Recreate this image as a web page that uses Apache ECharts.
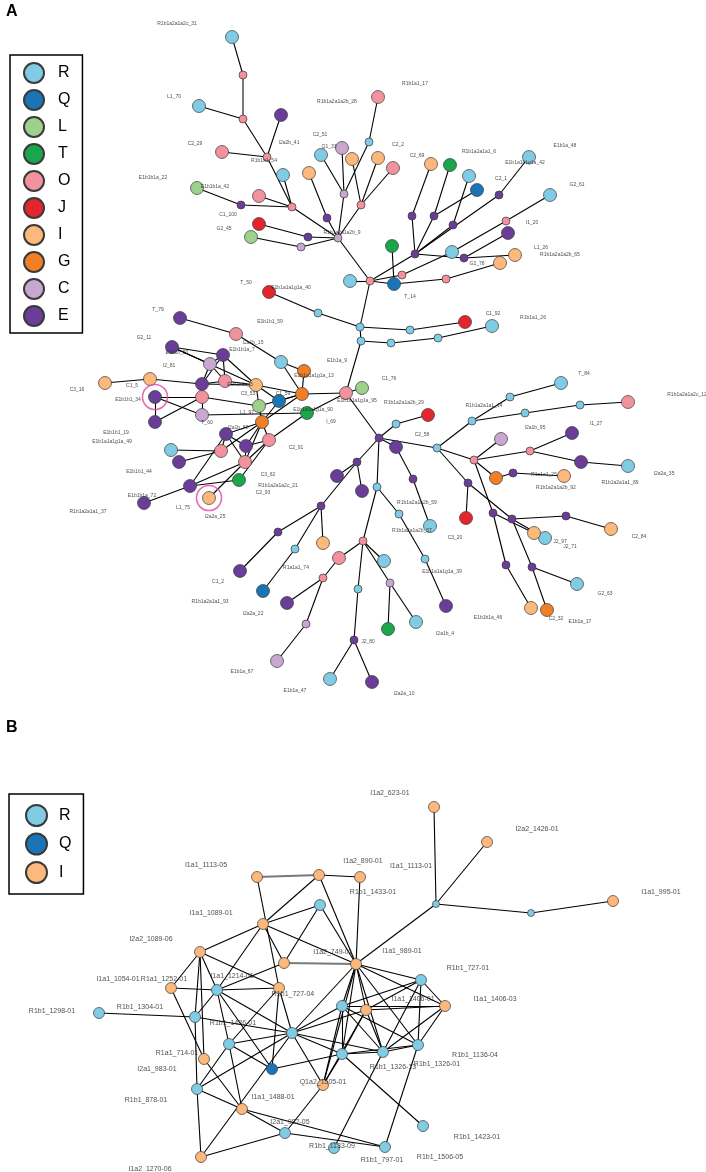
<!DOCTYPE html>
<html><head><meta charset="utf-8">
<script src="https://cdn.jsdelivr.net/npm/echarts@6/dist/echarts.min.js"></script>
<style>html,body{margin:0;padding:0;background:#fff}#c{width:706px;height:1172px}</style>
</head><body><div id="c"></div>
<script>
// ---------- DATA ----------
const groupsA = ['R','Q','L','T','O','J','I','G','C','E'];
const groupsB = ['R','Q','I'];

// [id, haplogroup, kind (s = sampled, m = median vector), layout x, layout y]
const nodesA = [
['n1','R','s',232,37],['n2','O','m',243,75],['n3','R','s',199,106],['n4','O','m',243,119],
['n5','E','s',281,115],['n6','O','s',222,152],['n7','O','m',267,157],['n8','R','s',283,175],
['n9','L','s',197,188],['n10','O','s',259,196],['n11','E','m',241,205],['n12','O','m',292,207],
['n13','J','s',259,224],['n14','L','s',251,237],['n15','E','m',308,237],['n16','C','m',301,247],
['n17','I','s',309,173],['n18','E','m',327,218],['n19','R','s',321,155],['n20','C','s',342,148],
['n21','C','m',344,194],['n22','R','m',369,142],['n23','O','s',378,97],['n24','I','s',352,159],
['n25','I','s',378,158],['n26','O','s',393,168],['n27','O','m',361,205],['n28','C','m',338,238],
['n29','O','m',370,281],['n30','R','s',350,281],['n31','T','s',392,246],['n32','Q','s',394,284],
['n33','O','m',402,275],['n34','E','m',415,254],['n35','E','m',412,216],['n36','I','s',431,164],
['n37','E','m',434,216],['n38','T','s',450,165],['n39','Q','s',477,190],['n40','E','m',453,225],
['n41','R','s',469,176],['n42','E','m',499,195],['n43','R','s',529,157],['n44','R','s',452,252],
['n45','O','m',506,221],['n46','R','s',550,195],['n47','E','m',464,258],['n48','E','s',508,233],
['n49','I','s',515,255],['n50','O','m',446,279],['n51','I','s',500,263],['n52','R','m',360,327],
['n53','R','m',318,313],['n54','J','s',269,292],['n55','R','m',410,330],['n56','J','s',465,322],
['n57','R','m',361,341],['n58','R','m',391,343],['n59','R','m',438,338],['n60','R','s',492,326],
['n61','O','s',346,393],['n62','L','s',362,388],['n63','E','m',379,438],['n64','R','m',396,424],
['n65','J','s',428,415],['n66','E','s',396,447],['n67','E','m',413,479],['n68','R','s',430,526],
['n69','R','m',437,448],['n70','R','m',472,421],['n71','R','m',510,397],['n72','R','s',561,383],
['n73','R','m',525,413],['n74','R','m',580,405],['n75','O','s',628,402],['n76','O','m',474,460],
['n77','C','s',501,439],['n78','O','m',530,451],['n79','E','s',572,433],['n80','E','s',581,462],
['n81','R','s',628,466],['n82','G','s',496,478],['n83','E','m',513,473],['n84','I','s',564,476],
['n85','E','m',468,483],['n86','J','s',466,518],['n87','E','m',493,513],['n88','E','m',512,519],
['n89','E','m',566,516],['n90','I','s',611,529],['n91','I','s',534,533],['n92','R','s',545,538],
['n93','E','m',506,565],['n94','E','m',532,567],['n95','R','s',577,584],['n96','I','s',531,608],
['n97','G','s',547,610],['n98','E','m',357,462],['n99','E','s',337,476],['n100','E','s',362,491],
['n101','E','m',321,506],['n102','E','m',278,532],['n103','E','s',240,571],['n104','I','s',323,543],
['n105','R','m',295,549],['n106','Q','s',263,591],['n107','R','m',377,487],['n108','O','m',363,541],
['n109','R','m',399,514],['n110','R','m',425,559],['n111','E','s',446,606],['n112','O','s',339,558],
['n113','O','m',323,578],['n114','E','s',287,603],['n115','C','m',306,624],['n116','C','s',277,661],
['n117','R','m',358,589],['n118','E','m',354,640],['n119','R','s',330,679],['n120','E','s',372,682],
['n121','C','m',390,583],['n122','T','s',388,629],['n123','R','s',416,622],['n124','R','s',384,561],
['c1','E','s',180,318],['c2','O','s',236,334],['c3','R','s',281,362],['c4','G','s',304,371],
['c5','E','s',172,347],['c6','E','s',223,355],['c7','C','s',210,364],['c8','I','s',150,379],
['c9','I','s',105,383],['c10','E','s',202,384],['c11','O','s',225,381],['c12','I','s',256,385],
['c13','G','s',302,394],['c14','Q','s',279,401],['c15','E','s',155,397],['c16','O','s',202,397],
['c17','L','s',259,406],['c18','C','s',202,415],['c19','T','s',307,413],['c20','E','s',155,422],
['c21','G','s',262,422],['c22','E','s',226,434],['c23','O','s',269,440],['c24','R','s',171,450],
['c25','E','s',246,446],['c26','O','s',221,451],['c27','E','s',179,462],['c28','O','s',245,462],
['c29','T','s',239,480],['c30','E','s',190,486],['c31','I','s',209,498],['c32','E','s',144,503]
];
const edgesA = [
['n1','n2'],['n4','n3'],['n4','n7'],['n5','n7'],['n6','n7'],['n7','n12'],['n8','n12'],
['n10','n12'],['n11','n12'],['n9','n11'],['n12','n28'],['n17','n18'],['n18','n28'],['n19','n21'],
['n20','n21'],['n22','n21'],['n23','n22'],['n21','n28'],['n24','n27'],['n25','n27'],['n26','n27'],
['n27','n28'],['n13','n15'],['n15','n28'],['n14','n16'],['n16','n28'],['n28','n29'],['n29','n30'],
['n29','n33'],['n29','n32'],['n29','n34'],['n29','n52'],['n33','n44'],['n44','n45'],['n45','n46'],
['n34','n35'],['n35','n36'],['n34','n37'],['n37','n38'],['n37','n39'],['n34','n40'],['n40','n41'],
['n34','n42'],['n42','n43'],['n34','n47'],['n47','n48'],['n47','n49'],['n31','n32'],['n32','n50'],
['n50','n51'],['n52','n53'],['n53','n54'],['n52','n55'],['n55','n56'],['n52','n57'],['n57','n58'],
['n58','n59'],['n59','n60'],['n57','n61'],['n61','n62'],['n61','n63'],['n63','n64'],['n64','n65'],
['n63','n66'],['n66','n67'],['n67','n68'],['n63','n69'],['n69','n70'],['n70','n71'],['n71','n72'],
['n70','n73'],['n73','n74'],['n74','n75'],['n69','n76'],['n76','n77'],['n76','n78'],['n78','n79'],
['n78','n80'],['n80','n81'],['n76','n82'],['n82','n83'],['n83','n84'],['n69','n85'],['n85','n86'],
['n76','n87'],['n85','n88'],['n88','n89'],['n89','n90'],['n87','n91'],['n88','n92'],['n87','n93'],
['n93','n96'],['n88','n94'],['n94','n97'],['n94','n95'],['n63','n98'],['n98','n99'],['n98','n100'],
['n98','n101'],['n101','n102'],['n102','n103'],['n101','n104'],['n101','n105'],['n105','n106'],
['n63','n107'],['n107','n108'],['n107','n109'],['n109','n110'],['n110','n111'],['n108','n112'],
['n112','n113'],['n113','n114'],['n113','n115'],['n115','n116'],['n108','n117'],['n117','n118'],
['n118','n119'],['n118','n120'],['n108','n121'],['n121','n122'],['n121','n123'],['n108','n124'],
['c1','c2'],['c2','c3'],['c3','c4'],['c3','c13'],['c4','c13'],['c5','c6'],['c5','c7'],['c5','c12'],
['c6','c7'],['c6','c11'],['c6','c10'],['c6','c12'],['c7','c10'],['c7','c11'],['c10','c11'],
['c8','c10'],['c9','c8'],['c10','c12'],['c11','c12'],['c12','c13'],['c12','c14'],['c12','c17'],
['c15','c16'],['c15','c18'],['c20','c16'],['c15','c20'],['c16','c17'],['c16','c18'],['c18','c19'],
['c17','c13'],['c17','c21'],['c14','c13'],['c14','c21'],['c21','c13'],['c21','c22'],['c21','c25'],
['c21','c23'],['c21','c28'],['c21','c26'],['c13','n61'],['c19','n61'],['c19','c23'],['c22','c25'],
['c22','c26'],['c22','c28'],['c25','c23'],['c25','c28'],['c24','c26'],['c27','c26'],['c23','c29'],
['c28','c23'],['c30','c29'],['c30','c32'],['c30','c22'],['c30','c28'],['c31','c28']
];
const greyEdgesA = [['n2','n4']];
const ringedA = ['c15','c31'];
const labelsA = [
['R1b1a2a1a2c_31',177,24],['L1_70',174,97],['R1b1a1_17',415,84],['R1b1a2a1a2b_28',337,102],
['C2_29',195,144],['I2a2b_41',289,143],['C2_51',320,135],['Q1_33',329,147],['C2_2',398,145],
['R1b1a1_54',264,161],['E1b1b1a_22',153,178],['E1b1b1a_42',215,187],['C1_100',228,215],
['G2_45',224,229],['R1b1a2a1a2b_9',342,233],['C2_69',417,156],['R1b1a2a1a1_6',479,152],
['E1b1a_48',565,146],['E1b1a1b1g1a_42',525,163],['C2_1',501,179],['G2_61',577,185],['I1_20',532,223],
['L1_26',541,248],['R1b1a2a1a2b_65',560,255],['G2_78',477,264],['T_14',410,297],
['E1b1a1a1g1a_40',291,288],['T_50',246,283],['E1b1b1_59',270,322],['C1_92',493,314],
['R1b1a1_26',533,318],['T_79',158,310],['G2_11',144,338],['I2a1b_15',253,343],['E1b1b1a_7',242,350],
['E1b1b_50',177,353],['I2_81',169,366],['E1b1a_9',337,361],['E1b1a1a1g1a_13',314,376],['C1_76',389,379],
['C1_5',132,386],['C3_16',77,390],['E1b1b1a_3',240,385],['C3_53',248,394],['C1_59',283,394],
['E1b1b1_34',128,400],['E1b1a1a1g1a_95',357,401],['R1b1a2a1a2b_29',404,403],['E1b1a1a1g1a_90',313,410],
['L1_97',247,413],['T_60',207,423],['I_69',331,422],['I2a1b_88',238,428],['C2_58',422,435],
['E1b1b1_19',116,433],['E1b1a1a1g1a_49',112,442],['C2_91',296,448],['E1b1b1_44',139,472],
['C3_62',268,475],['R1b1a2a1a2c_21',278,486],['C2_93',263,493],['E1b1b1a_72',142,496],
['R1b1a2a1a1_37',88,512],['L1_75',183,508],['I2a2a_25',215,517],['T_84',584,374],
['R1b1a2a1a2c_12',687,395],['R1b1a2a1a1_14',484,406],['I2a1b_95',535,428],['I1_27',596,424],
['R1a1a1_25',544,475],['R1b1a2a1a2b_92',556,488],['R1b1a2a1a1_89',620,483],['I2a2a_35',664,474],
['R1b1a2a1a2b_59',417,503],['R1b1a2a1a2b_57',412,531],['C3_20',455,538],['J2_97',560,542],
['J2_71',570,547],['C2_84',639,537],['R1a1a1_74',296,568],['E1b1a1a1g1a_39',442,572],['C1_2',218,582],
['R1b1a2a1a1_93',210,602],['G2_63',605,594],['I2a2a_22',253,614],['E1b1b1a_46',488,618],
['C2_32',556,619],['E1b1a_17',580,622],['I2a1b_4',445,634],['J2_80',368,642],['E1b1a_67',242,672],
['E1b1a_47',295,691],['I2a2a_10',404,694]
];

const nodesB = [
['b1','I','s',434,807],['b2','I','s',487,842],['b3','I','s',257,877],['b4','I','s',319,875],
['b5','I','s',360,877],['b6','R','s',320,905],['b7','R','m',436,904],['b8','R','m',531,913],
['b9','I','s',613,901],['b10','I','s',263,924],['b11','I','s',200,952],['b12','I','s',284,963],
['b13','I','s',356,964],['b14','R','s',421,980],['b15','I','s',171,988],['b16','R','s',217,990],
['b17','I','s',279,988],['b18','R','s',342,1006],['b19','I','s',366,1010],['b20','I','s',445,1006],
['b21','R','s',99,1013],['b22','R','s',195,1017],['b23','R','s',292,1033],['b24','R','s',229,1044],
['b25','R','s',342,1054],['b26','R','s',383,1052],['b27','R','s',418,1045],['b28','I','s',204,1059],
['b29','Q','s',272,1069],['b30','I','s',323,1085],['b31','R','s',197,1089],['b32','I','s',242,1109],
['b33','R','s',285,1133],['b34','R','s',334,1148],['b35','R','s',385,1147],['b36','R','s',423,1126],
['b37','I','s',201,1157]
];
const edgesB = [
['b4','b5'],['b3','b17'],['b4','b10'],['b4','b13'],['b5','b13'],['b6','b10'],['b6','b12'],['b6','b13'],
['b10','b11'],['b10','b13'],['b10','b12'],['b10','b16'],['b12','b16'],['b13','b7'],['b7','b1'],
['b7','b2'],['b7','b8'],['b8','b9'],['b13','b14'],['b13','b20'],['b13','b18'],['b13','b19'],
['b13','b23'],['b13','b25'],['b13','b26'],['b13','b27'],['b13','b30'],['b11','b15'],['b11','b16'],
['b11','b17'],['b11','b22'],['b11','b28'],['b15','b16'],['b15','b28'],['b16','b17'],['b16','b22'],
['b16','b24'],['b16','b29'],['b16','b23'],['b21','b22'],['b22','b23'],['b22','b31'],['b24','b23'],
['b24','b29'],['b24','b31'],['b24','b32'],['b24','b17'],['b23','b17'],['b23','b25'],['b23','b30'],
['b23','b31'],['b23','b26'],['b23','b18'],['b23','b19'],['b17','b29'],['b28','b32'],['b31','b32'],
['b31','b37'],['b29','b25'],['b32','b33'],['b32','b35'],['b37','b33'],['b37','b23'],['b33','b35'],
['b33','b30'],['b34','b26'],['b35','b27'],['b36','b25'],['b18','b26'],['b18','b27'],['b18','b20'],
['b18','b14'],['b18','b30'],['b18','b25'],['b19','b14'],['b19','b20'],['b19','b26'],['b19','b25'],
['b19','b30'],['b14','b26'],['b14','b27'],['b14','b20'],['b20','b27'],['b20','b26'],['b25','b26'],
['b25','b27'],['b25','b30'],['b26','b27']
];
const greyEdgesB = [['b3','b4'],['b12','b13']];
const labelsB = [
['I1a2_623-01',390,793],['I2a2_1426-01',537,829],['I1a1_1113-05',206,865],['I1a2_890-01',363,861],
['I1a1_1113-01',411,866],['R1b1_1433-01',373,892],['I1a1_995-01',661,892],['I1a1_1089-01',211,913],
['I2a2_1089-06',151,939],['I1a2_749-01',333,952],['I1a1_989-01',402,951],['R1b1_727-01',468,968],
['I1a1_1054-01',118,979],['R1a1_1252-01',164,979],['I1a1_1214-01',232,976],['R1b1_727-04',293,994],
['R1b1_1298-01',52,1011],['R1b1_1304-01',140,1007],['I1a1_1406-01',413,999],['I1a1_1406-03',495,999],
['R1b1_1436-01',233,1023],['R1a1_714-01',177,1053],['R1b1_1136-04',475,1055],['R1b1_1326-13',393,1067],
['R1b1_1326-01',437,1064],['I2a1_983-01',157,1069],['Q1a2_1505-01',323,1082],['I1a1_1488-01',273,1097],
['R1b1_878-01',146,1100],['I2a1_982-05',290,1122],['R1b1_1423-01',477,1137],['R1b1_1133-09',332,1146],
['R1b1_797-01',382,1160],['R1b1_1506-05',440,1157],['I1a2_1270-06',150,1169]
];

// ---------- STYLE ----------
const colors = {R:'#80CCE4',Q:'#1A74B6',L:'#9DD18C',T:'#1AA64A',O:'#F2929E',J:'#E3262D',
  I:'#FDB87B',G:'#F07F26',C:'#C9A7D3',E:'#6A3D98'};
const FONT = '"Liberation Sans", Arial, Helvetica, sans-serif';
const sizeOf = {A:{s:13,m:8}, B:{s:11,m:7}};

const chart = echarts.init(document.getElementById('c'), null, {renderer:'canvas'});
const pos = {};
nodesA.forEach(n => pos['A'+n[0]] = [n[3], n[4]]);
nodesB.forEach(n => pos['B'+n[0]] = [n[3], n[4]]);
const toLines = (edges, p) => edges.map(e => ({coords: [pos[p+e[0]], pos[p+e[1]]]}));

const series = [];
series.push({type:'lines', coordinateSystem:'cartesian2d', silent:true, z:1,
  data: toLines(edgesA,'A').concat(toLines(edgesB,'B')),
  lineStyle:{color:'#000', width:1.1, opacity:1}});
series.push({type:'lines', coordinateSystem:'cartesian2d', silent:true, z:1,
  data: toLines(greyEdgesA,'A').concat(toLines(greyEdgesB,'B')),
  lineStyle:{color:'#7a7a7a', width:2, opacity:1}});

groupsA.forEach(g => {
  const data = [];
  nodesA.filter(n => n[1] === g).forEach(n => data.push([n[3], n[4], sizeOf.A[n[2]]]));
  nodesB.filter(n => n[1] === g).forEach(n => data.push([n[3], n[4], sizeOf.B[n[2]]]));
  series.push({type:'scatter', name:g, z:3, data, symbol:'circle',
    symbolSize: v => v[2], silent:true,
    itemStyle:{color:colors[g], borderColor:'#3a3a3a', borderWidth:0.7, opacity:1}});
});

series.push({type:'scatter', name:'ring', z:4, silent:true, symbol:'circle', symbolSize:25,
  data: ringedA.map(id => pos['A'+id]),
  itemStyle:{color:'rgba(0,0,0,0)', borderColor:'#DF4AA0', borderWidth:1.6}});

const labelSeries = (labels, fs) => ({type:'scatter', name:'lbl'+fs, z:5, silent:true, symbolSize:1,
  data: labels.map(l => ({name:l[0], value:[l[1], l[2]]})),
  itemStyle:{color:'rgba(0,0,0,0)'},
  label:{show:true, position:'inside', formatter:'{b}', fontSize:fs, color:'#222', fontFamily:FONT}});
series.push(labelSeries(labelsA, 5));
series.push(labelSeries(labelsB, 7));

const legendBase = {orient:'vertical', selectedMode:false, icon:'circle', borderColor:'#000',
  borderWidth:1.5, borderRadius:0, textStyle:{fontSize:16, color:'#000', fontFamily:FONT}};

chart.setOption({
  animation:false,
  backgroundColor:'#fff',
  grid:{left:0, top:0, right:0, bottom:0},
  xAxis:{type:'value', min:0, max:706, show:false},
  yAxis:{type:'value', min:0, max:1172, inverse:true, show:false},
  legend:[
    Object.assign({}, legendBase, {data:groupsA, left:10, top:55, padding:[7,12,6,13],
      itemWidth:20, itemHeight:20, itemGap:5,
      textStyle:Object.assign({}, legendBase.textStyle, {padding:[0,0,0,9]})}),
    Object.assign({}, legendBase, {data:groupsB, left:9, top:794, padding:[10,12,10,16],
      itemWidth:21, itemHeight:21, itemGap:5.5,
      textStyle:Object.assign({}, legendBase.textStyle, {padding:[0,0,0,7]})})
  ],
  graphic:[
    {type:'text', left:6, top:4, style:{text:'A', font:'bold 16px ' + FONT, fill:'#000'}},
    {type:'text', left:6, top:720, style:{text:'B', font:'bold 16px ' + FONT, fill:'#000'}}
  ],
  series
});
</script></body></html>
